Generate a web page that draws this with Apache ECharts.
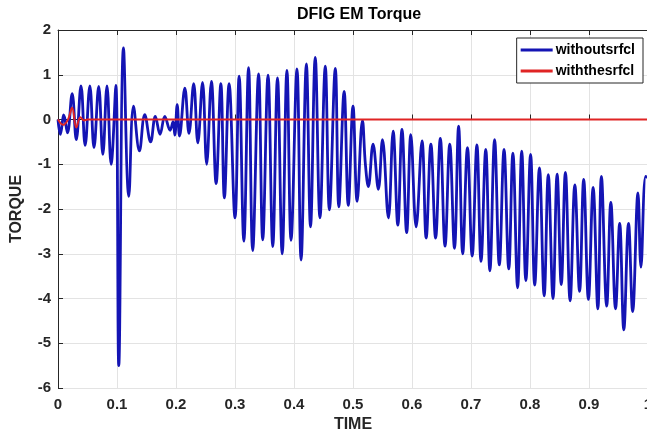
<!DOCTYPE html>
<html>
<head>
<meta charset="utf-8">
<script src="https://cdn.jsdelivr.net/npm/echarts@6/dist/echarts.min.js"></script>
<style>
  html, body { margin: 0; padding: 0; background: #fff; }
  #chart { width: 647px; height: 430px; }
</style>
</head>
<body>
<div id="chart"></div>
<script>
// withoutsrfcl: peaks and troughs
var timeBlue = [
  0, 0.004, 0.010, 0.016, 0.024, 0.031, 0.039, 0.046, 0.054, 0.061,
  0.069, 0.076, 0.083, 0.090, 0.098, 0.103, 0.111, 0.120, 0.128, 0.138,
  0.147, 0.157, 0.165, 0.173, 0.181, 0.190, 0.195, 0.198, 0.202, 0.206,
  0.215, 0.222, 0.230, 0.237, 0.245, 0.252, 0.260, 0.268, 0.276, 0.282,
  0.290, 0.300, 0.307, 0.315, 0.323, 0.330, 0.340, 0.347, 0.356, 0.364,
  0.372, 0.380, 0.388, 0.395, 0.405, 0.412, 0.421, 0.428, 0.436, 0.444,
  0.453, 0.460, 0.470, 0.476, 0.485, 0.492, 0.500, 0.507, 0.516, 0.521,
  0.526, 0.534, 0.543, 0.550, 0.560, 0.568, 0.576, 0.583, 0.591, 0.598,
  0.607, 0.617, 0.624, 0.632, 0.640, 0.648, 0.656, 0.664, 0.672, 0.679,
  0.686, 0.694, 0.702, 0.710, 0.717, 0.725, 0.732, 0.740, 0.748, 0.756,
  0.764, 0.771, 0.779, 0.786, 0.793, 0.801, 0.808, 0.816, 0.824, 0.831,
  0.839, 0.846, 0.853, 0.860, 0.868, 0.876, 0.884, 0.891, 0.899, 0.907,
  0.915, 0.921, 0.930, 0.937, 0.945, 0.952, 0.959, 0.967, 0.974, 0.983,
  0.988, 0.996, 1.0
];
var torqueBlue = [
  0, -0.33, 0.10, -0.30, 0.58, -0.45, 0.75, -0.58, 0.75, -0.63,
  0.74, -0.78, 0.75, -1.00, 0.76, -5.50, 1.60, -1.72, 0.30, -0.70,
  0.11, -0.50, 0.07, -0.33, 0.07, -0.24, -0.05, -0.35, 0.33, -0.37,
  0.70, -0.31, 0.80, -0.52, 0.83, -1.00, 0.85, -1.43, 0.80, -1.75,
  0.80, -2.20, 0.97, -2.72, 1.16, -2.93, 1.02, -2.69, 0.99, -2.84,
  0.93, -3.00, 1.10, -2.70, 1.13, -3.14, 1.24, -2.40, 1.39, -2.20,
  1.19, -2.02, 1.14, -1.95, 0.63, -1.92, 0.30, -1.83, -0.02, -1.00,
  -1.50, -0.55, -1.56, -0.45, -2.20, -0.26, -2.36, -0.22, -2.53, -0.34,
  -2.40, -0.48, -2.65, -0.55, -2.65, -0.42, -2.83, -0.55, -2.88, -0.15,
  -3.00, -0.63, -3.05, -0.57, -3.17, -0.67, -3.38, -0.45, -3.25, -0.67,
  -3.34, -0.75, -3.76, -0.71, -3.60, -0.78, -3.70, -1.08, -3.94, -1.23,
  -4.00, -1.22, -3.69, -1.18, -4.05, -1.46, -3.84, -1.34, -4.02, -1.52,
  -4.23, -1.27, -4.17, -1.85, -4.23, -2.32, -4.70, -2.32, -4.29, -1.64,
  -3.30, -1.27, -1.30
];

// withthesrfcl
var timeRed = [0, 0.009, 0.017, 0.024, 0.031, 0.038, 0.044, 0.050, 1.0];
var torqueRed = [0, -0.12, 0.0, 0.26, -0.18, 0.05, -0.02, 0, 0];

var xTicks = ['0', '0.1', '0.2', '0.3', '0.4', '0.5', '0.6', '0.7', '0.8', '0.9', '1'];

function pairs (xs, ys) {
  return xs.map(function (x, i) { return [x, ys[i]] })
}

var chart = echarts.init(document.getElementById('chart'))
var labelFont = { color: '#262626', fontWeight: 'bold', fontSize: 15, fontFamily: 'Liberation Sans' }

var options = {
  animation: false,
  backgroundColor: '#fff',
  title: {
    text: 'DFIG EM Torque',
    left: 354,
    textAlign: 'center',
    top: 2,
    textStyle: { color: '#000', fontWeight: 'bold', fontSize: 16, fontFamily: 'Liberation Sans' }
  },
  legend: {
    orient: 'vertical',
    right: 4,
    top: 38,
    backgroundColor: '#fff',
    borderColor: '#262626',
    borderWidth: 1,
    padding: [5, 8, 5, 4],
    itemGap: 7,
    itemWidth: 32,
    itemHeight: 3,
    icon: 'rect',
    textStyle: { color: '#000', fontWeight: 'bold', fontSize: 14, fontFamily: 'Liberation Sans', padding: [0, 0, 0, -2] },
    data: ['withoutsrfcl', 'withthesrfcl']
  },
  grid: {
    left: 58,
    top: 30,
    width: 590,
    height: 358,
    outerBoundsMode: 'none',
    containLabel: false
  },
  xAxis: [{
    type: 'value',
    min: 0,
    max: 1,
    interval: 0.1,
    name: 'TIME',
    nameLocation: 'middle',
    nameGap: 26,
    nameTextStyle: { color: '#262626', fontWeight: 'bold', fontSize: 16, fontFamily: 'Liberation Sans' },
    axisLine: { lineStyle: { color: '#262626', width: 1 } },
    axisTick: { inside: true, length: 5, lineStyle: { color: '#262626' } },
    axisLabel: Object.assign({
      margin: 9,
      formatter: function (v) { return xTicks[Math.round(v * 10)] }
    }, labelFont),
    splitLine: { show: true, lineStyle: { color: '#e3e3e3', width: 1 } }
  }, {
    type: 'value',
    position: 'top',
    min: 0,
    max: 1,
    interval: 0.1,
    axisLine: { show: true, onZero: false, lineStyle: { color: '#262626', width: 1 } },
    axisTick: { inside: true, length: 5, lineStyle: { color: '#262626' } },
    axisLabel: { show: false },
    splitLine: { show: false }
  }],
  yAxis: {
    type: 'value',
    min: -6,
    max: 2,
    interval: 1,
    name: 'TORQUE',
    nameLocation: 'middle',
    nameGap: 33,
    nameTextStyle: { color: '#262626', fontWeight: 'bold', fontSize: 16, fontFamily: 'Liberation Sans' },
    axisLine: { show: true, onZero: false, lineStyle: { color: '#262626', width: 1 } },
    axisTick: { show: true, inside: true, length: 5, lineStyle: { color: '#262626' } },
    axisLabel: Object.assign({ margin: 7 }, labelFont),
    splitLine: { show: true, lineStyle: { color: '#e3e3e3', width: 1 } }
  },
  series: [
    {
      name: 'withoutsrfcl',
      type: 'line',
      symbol: 'none',
      smooth: 0.4,
      color: '#1414b4',
      lineStyle: { color: '#1414b4', width: 2.8 },
      data: pairs(timeBlue, torqueBlue)
    },
    {
      name: 'withthesrfcl',
      type: 'line',
      symbol: 'none',
      smooth: 0.4,
      color: '#e02424',
      lineStyle: { color: '#e02424', width: 2 },
      data: pairs(timeRed, torqueRed)
    }
  ]
}
chart.setOption(options)
</script>
</body>
</html>
